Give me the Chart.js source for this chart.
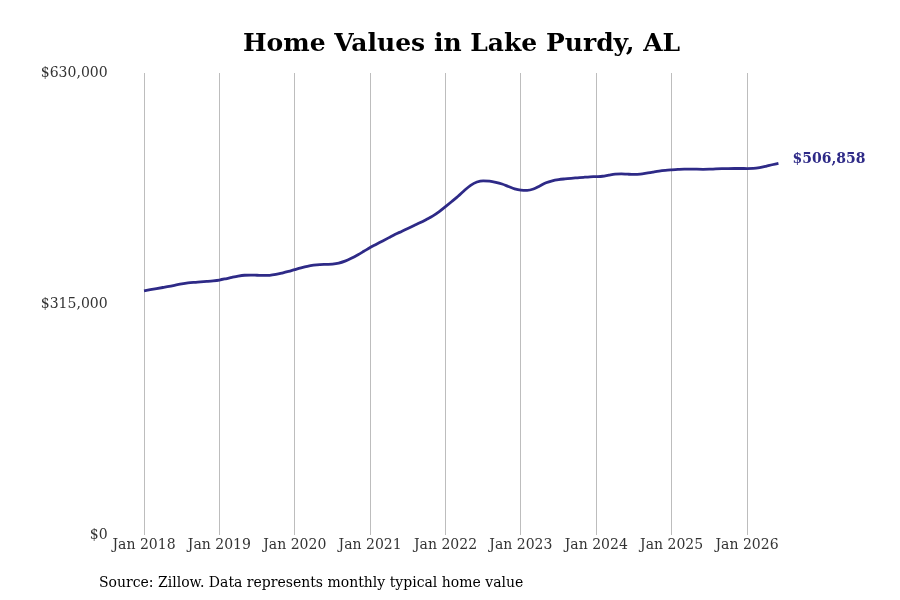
<!DOCTYPE html>
<html>
<head>
<meta charset="utf-8">
<script src="https://cdn.jsdelivr.net/npm/chart.js@4.4.0/dist/chart.umd.min.js"></script>
<style>
  html, body { margin: 0; padding: 0; background: #ffffff; }
  #wrap { width: 900px; height: 600px; position: relative; }
</style>
</head>
<body>
<div id="wrap"><canvas id="c" width="900" height="600"></canvas></div>
<script>
// Monthly typical home value, Jan 2018 .. Jun 2026 (values in USD)
const startYear = 2018;
const values2018 = [333000, 334500, 336000, 337500, 339000, 340700, 342400, 343700, 344500, 345100, 345800, 346600];
const values2019 = [347700, 349400, 351300, 353000, 354200, 354500, 354200, 353900, 354100, 355300, 357200, 359400];
const values2020 = [361900, 364300, 366400, 367900, 368800, 369100, 369400, 370700, 373400, 377300, 381900, 386900];
const values2021 = [392000, 396500, 401000, 405500, 410000, 414000, 418000, 422000, 426000, 430500, 435200, 441000];
const values2022 = [447800, 454800, 462000, 469800, 476800, 481300, 483000, 482600, 481000, 478600, 475300, 472000];
const values2023 = [470200, 469900, 471800, 476000, 480300, 483000, 484600, 485600, 486400, 487100, 487800, 488400];
const values2024 = [488700, 489200, 490800, 492200, 492500, 492000, 491700, 492100, 493400, 494900, 496300, 497300];
const values2025 = [498000, 498600, 499000, 499000, 498800, 498700, 498800, 499200, 499500, 499700, 499800, 499800];
const values2026 = [499700, 499900, 501000, 502800, 504900, 506858];
const yTickValues = [0, 315000, 630000];
const xTickYears = [2018, 2019, 2020, 2021, 2022, 2023, 2024, 2025, 2026];
const titleText = "Home Values in Lake Purdy, AL";
const sourceText = "Source: Zillow. Data represents monthly typical home value";
const endLabelText = "$506,858";

const allValues = [].concat(values2018, values2019, values2020, values2021, values2022, values2023, values2024, values2025, values2026);
const points = allValues.map((v, i) => ({ x: i, y: v }));

const LINE_COLOR = '#2e2a87';
const FONT = "'DejaVu Serif', serif";

function fmtMoney(v) {
  return '$' + Math.round(v).toLocaleString('en-US');
}

const overlay = {
  id: 'overlay',
  afterDraw(chart) {
    const ctx = chart.ctx;
    ctx.save();
    // Title
    ctx.fillStyle = '#000000';
    ctx.font = "bold 25px " + FONT;
    ctx.textAlign = 'center';
    ctx.textBaseline = 'middle';
    ctx.fillText(titleText, 461.5, 44);
    // Source
    ctx.font = "14px " + FONT;
    ctx.textAlign = 'left';
    ctx.fillStyle = '#000000';
    ctx.fillText(sourceText, 99, 583);
    // End label
    const meta = chart.getDatasetMeta(0);
    const last = meta.data[meta.data.length - 1];
    ctx.font = "bold 14px " + FONT;
    ctx.fillStyle = LINE_COLOR;
    ctx.fillText(endLabelText, last.x + 14, last.y - 4);
    ctx.restore();
  }
};

new Chart(document.getElementById('c'), {
  type: 'line',
  data: {
    datasets: [{
      data: points,
      borderColor: LINE_COLOR,
      borderWidth: 2.8,
      pointRadius: 0,
      tension: 0.4,
      cubicInterpolationMode: 'monotone',
      fill: false
    }]
  },
  options: {
    responsive: false,
    animation: false,
    devicePixelRatio: 1,
    layout: { padding: { top: 73, right: 109, left: 0, bottom: 0 } },
    plugins: {
      legend: { display: false },
      title: { display: false },
      tooltip: { enabled: false }
    },
    scales: {
      x: {
        type: 'linear',
        min: -5,
        max: 103,
        afterBuildTicks(scale) {
          scale.ticks = xTickYears.map(y => ({ value: (y - startYear) * 12 }));
        },
        afterFit(scale) { scale.height = 65; },
        ticks: {
          autoSkip: false,
          maxRotation: 0,
          padding: 2,
          color: '#333333',
          font: { family: FONT, size: 14 },
          callback: (v) => 'Jan ' + (startYear + Math.round(v / 12))
        },
        grid: {
          display: true,
          drawTicks: false,
          color: '#bdbdbd',
          lineWidth: 1
        },
        border: { display: false }
      },
      y: {
        min: 0,
        max: 630000,
        afterBuildTicks(scale) {
          scale.ticks = yTickValues.map(v => ({ value: v }));
        },
        afterFit(scale) { scale.width = 112.6; },
        ticks: {
          padding: 5,
          color: '#333333',
          font: { family: FONT, size: 14 },
          callback: (v) => fmtMoney(v)
        },
        grid: { display: false, drawTicks: false },
        border: { display: false }
      }
    }
  },
  plugins: [overlay]
});
</script>
</body>
</html>
